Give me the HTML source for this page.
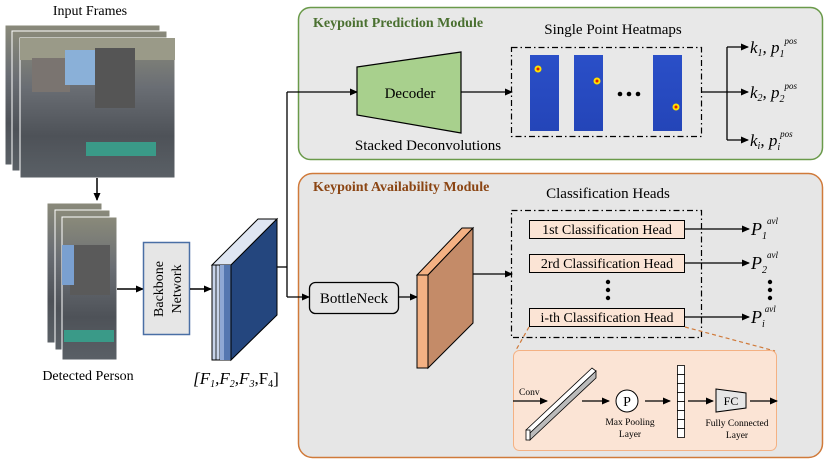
<!DOCTYPE html>
<html><head><meta charset="utf-8"><style>
body{margin:0;background:#fff}
svg{display:block}
text{font-family:"Liberation Serif","DejaVu Serif",serif}
</style></head><body>
<svg width="830" height="466" viewBox="0 0 830 466" xmlns="http://www.w3.org/2000/svg" font-family="Liberation Serif, serif">
<defs>
<marker id="a" markerWidth="8" markerHeight="8" refX="7" refY="4" orient="auto" markerUnits="userSpaceOnUse"><path d="M0,0.5 L8,4 L0,7.5 z" fill="#000"/></marker>
<linearGradient id="ph" x1="0" y1="0" x2="0" y2="1"><stop offset="0" stop-color="#8a8a7a"/><stop offset="0.35" stop-color="#6a6e74"/><stop offset="0.7" stop-color="#4e5258"/><stop offset="1" stop-color="#5a6066"/></linearGradient>
<linearGradient id="hm" x1="0" y1="0" x2="0" y2="1"><stop offset="0" stop-color="#2a4fc8"/><stop offset="1" stop-color="#2445b8"/></linearGradient>
</defs>
<text x="90" y="15" font-size="14" text-anchor="middle">Input Frames</text>
<rect x="5" y="25" width="155" height="140" fill="url(#ph)" stroke="#fff"/>
<rect x="12" y="31" width="155" height="140" fill="url(#ph)" stroke="#fff"/>
<rect x="20" y="38" width="155" height="140" fill="url(#ph)" stroke="#fff"/>
<rect x="20" y="38" width="155" height="22" fill="#9a9a88"/>
<rect x="32" y="58" width="38" height="34" fill="#7a7470"/>
<rect x="65" y="50" width="30" height="35" fill="#8ab0d8"/>
<rect x="95" y="48" width="40" height="60" fill="#555"/>
<rect x="86" y="142" width="70" height="14" fill="#3a9a88"/>
<line x1="97" y1="178" x2="97" y2="200" stroke="#000" stroke-width="1.5" marker-end="url(#a)"/>
<rect x="47" y="203" width="55" height="140" fill="url(#ph)" stroke="#fff"/>
<rect x="55" y="210" width="55" height="140" fill="url(#ph)" stroke="#fff"/>
<rect x="62" y="217" width="55" height="143" fill="url(#ph)" stroke="#fff"/>
<rect x="70" y="245" width="40" height="50" fill="#5a5a5a"/>
<rect x="62" y="245" width="12" height="40" fill="#7aa0d0"/>
<rect x="64" y="330" width="50" height="12" fill="#3a9a88"/>
<text x="88" y="380" font-size="14" text-anchor="middle">Detected Person</text>
<line x1="117" y1="289" x2="143" y2="289" stroke="#000" stroke-width="1.5" marker-end="url(#a)"/>
<rect x="143.5" y="242.5" width="46" height="92" fill="#e6e6e6" stroke="#4a6fa5" stroke-width="1.5"/>
<text transform="translate(163,289) rotate(-90)" font-size="14" text-anchor="middle">Backbone</text>
<text transform="translate(181,289) rotate(-90)" font-size="14" text-anchor="middle">Network</text>
<line x1="190" y1="289" x2="211" y2="289" stroke="#000" stroke-width="1.5" marker-end="url(#a)"/>
<polygon points="212,265 258,219 277,219 231,265" fill="#dfe6f2" stroke="#000" stroke-width="1"/>
<polygon points="212,265 231,265 231,360 212,360" fill="#c8d4ea" stroke="#000"/>
<line x1="216" y1="265" x2="216" y2="360" stroke="#000" stroke-width="0.8"/>
<line x1="220" y1="265" x2="220" y2="360" stroke="#000" stroke-width="0.8"/>
<line x1="224" y1="265" x2="224" y2="360" stroke="#000" stroke-width="0.8"/>
<line x1="228" y1="265" x2="228" y2="360" stroke="#000" stroke-width="0.8"/>
<rect x="220" y="265" width="4" height="95" fill="#8fa8d4"/>
<rect x="224" y="265" width="7" height="95" fill="#5577b0"/>
<polygon points="231,265 277,219 277,315 231,360" fill="#24467e" stroke="#000"/>
<text x="236" y="384" font-size="17" text-anchor="middle" font-style="italic">[F<tspan font-size="10" dy="3">1</tspan><tspan dy="-3">,F</tspan><tspan font-size="10" dy="3">2</tspan><tspan dy="-3">,F</tspan><tspan font-size="10" dy="3">3</tspan><tspan dy="-3" font-style="normal">,F</tspan><tspan font-size="10" dy="3" font-style="normal">4</tspan><tspan dy="-3" font-style="normal">]</tspan></text>
<polyline points="277,267 287,267" fill="none" stroke="#000" stroke-width="1.3"/>
<line x1="287" y1="92" x2="287" y2="297" stroke="#000" stroke-width="1.3"/>
<rect x="298.5" y="7.5" width="524" height="152" rx="12" fill="#e8e8e8" stroke="#6a9a4a" stroke-width="1.5"/>
<text x="313" y="27" font-size="14" font-weight="bold" fill="#4a7030">Keypoint Prediction Module</text>
<line x1="287" y1="92" x2="357" y2="92" stroke="#000" stroke-width="1.3" marker-end="url(#a)"/>
<polygon points="357,67 461,52 461,133 357,115" fill="#a8d08d" stroke="#000" stroke-width="1.2"/>
<text x="410" y="98" font-size="15" text-anchor="middle">Decoder</text>
<text x="428" y="150" font-size="15" text-anchor="middle">Stacked Deconvolutions</text>
<text x="613" y="34" font-size="15" text-anchor="middle">Single Point Heatmaps</text>
<line x1="461" y1="92" x2="512" y2="92" stroke="#000" stroke-width="1.3" marker-end="url(#a)"/>
<rect x="511.5" y="47.5" width="190" height="89" fill="none" stroke="#000" stroke-width="1.2" stroke-dasharray="6,3,1.5,3"/>
<rect x="530" y="55" width="29" height="76" fill="url(#hm)"/>
<rect x="574" y="55" width="29" height="76" fill="url(#hm)"/>
<rect x="653" y="55" width="29" height="76" fill="url(#hm)"/>
<circle cx="538" cy="69" r="3.5" fill="#ffe000"/><circle cx="538" cy="69" r="1.5" fill="#e02000"/>
<circle cx="597" cy="81" r="3.5" fill="#ffe000"/><circle cx="597" cy="81" r="1.5" fill="#e02000"/>
<circle cx="676" cy="107" r="3.5" fill="#ffe000"/><circle cx="676" cy="107" r="1.5" fill="#e02000"/>
<circle cx="620" cy="94" r="2.3"/><circle cx="629" cy="94" r="2.3"/><circle cx="638" cy="94" r="2.3"/>
<line x1="702" y1="92" x2="727" y2="92" stroke="#000" stroke-width="1.3"/>
<line x1="727" y1="47" x2="727" y2="140" stroke="#000" stroke-width="1.3"/>
<line x1="727" y1="47" x2="748" y2="47" stroke="#000" stroke-width="1.3" marker-end="url(#a)"/>
<line x1="727" y1="92" x2="748" y2="92" stroke="#000" stroke-width="1.3" marker-end="url(#a)"/>
<line x1="727" y1="140" x2="748" y2="140" stroke="#000" stroke-width="1.3" marker-end="url(#a)"/>
<g font-size="17" font-style="italic">
<text x="750" y="53">k<tspan font-size="10" dy="3">1</tspan><tspan dy="-3">,  p</tspan><tspan font-size="10" dy="4">1</tspan><tspan font-size="9" dy="-13">pos</tspan></text>
<text x="750" y="98">k<tspan font-size="10" dy="3">2</tspan><tspan dy="-3">,  p</tspan><tspan font-size="10" dy="4">2</tspan><tspan font-size="9" dy="-13">pos</tspan></text>
<text x="750" y="146">k<tspan font-size="10" dy="3">i</tspan><tspan dy="-3">,  p</tspan><tspan font-size="10" dy="4">i</tspan><tspan font-size="9" dy="-13">pos</tspan></text>
</g>
<rect x="298.5" y="173.5" width="524" height="284" rx="14" fill="#e6e6e6" stroke="#d07a3a" stroke-width="1.5"/>
<text x="313" y="191" font-size="14" font-weight="bold" fill="#8b4513">Keypoint Availability Module</text>
<line x1="287" y1="297" x2="309" y2="297" stroke="#000" stroke-width="1.3" marker-end="url(#a)"/>
<rect x="309.5" y="282.5" width="89" height="31" rx="6" fill="#e6e6e6" stroke="#000" stroke-width="1.3"/>
<text x="354" y="303" font-size="15" text-anchor="middle">BottleNeck</text>
<line x1="399" y1="297" x2="417" y2="297" stroke="#000" stroke-width="1.3" marker-end="url(#a)"/>
<polygon points="417,275 462,228 473,228 428,275" fill="#f4b183" stroke="#000"/>
<polygon points="428,275 473,228 473,323 428,368" fill="#c48b68" stroke="#000"/>
<rect x="417" y="275" width="11" height="93" fill="#f4b183" stroke="#000"/>
<line x1="473" y1="274" x2="512" y2="274" stroke="#000" stroke-width="1.3" marker-end="url(#a)"/>
<text x="608" y="198" font-size="15" text-anchor="middle">Classification  Heads</text>
<rect x="511.5" y="210.5" width="190" height="127" fill="none" stroke="#000" stroke-width="1.2" stroke-dasharray="6,3,1.5,3"/>
<g font-size="14" text-anchor="middle">
<rect x="529.5" y="220.5" width="155" height="18" fill="#fbe4d5" stroke="#000"/><text x="607" y="234">1st Classification Head</text>
<rect x="529.5" y="254.5" width="155" height="18" fill="#fbe4d5" stroke="#000"/><text x="607" y="268">2rd Classification Head</text>
<rect x="529.5" y="308.5" width="155" height="18" fill="#fbe4d5" stroke="#000"/><text x="607" y="322">i-th Classification Head</text>
</g>
<circle cx="608" cy="282" r="2.2"/><circle cx="608" cy="290" r="2.2"/><circle cx="608" cy="298" r="2.2"/>
<circle cx="770" cy="282" r="2.2"/><circle cx="770" cy="290" r="2.2"/><circle cx="770" cy="298" r="2.2"/>
<line x1="685" y1="229" x2="749" y2="229" stroke="#000" stroke-width="1.3" marker-end="url(#a)"/>
<line x1="685" y1="263" x2="749" y2="263" stroke="#000" stroke-width="1.3" marker-end="url(#a)"/>
<line x1="685" y1="317" x2="749" y2="317" stroke="#000" stroke-width="1.3" marker-end="url(#a)"/>
<g font-size="18" font-style="italic">
<text x="751" y="235">P<tspan font-size="10" dy="4">1</tspan><tspan font-size="9" dy="-15">avl</tspan></text>
<text x="751" y="269">P<tspan font-size="10" dy="4">2</tspan><tspan font-size="9" dy="-15">avl</tspan></text>
<text x="751" y="323">P<tspan font-size="10" dy="4">i</tspan><tspan font-size="9" dy="-15">avl</tspan></text>
</g>
<line x1="529" y1="327" x2="516" y2="350" stroke="#d07a3a" stroke-width="1.2" stroke-dasharray="4,3"/>
<line x1="685" y1="327" x2="775" y2="351" stroke="#d07a3a" stroke-width="1.2" stroke-dasharray="4,3"/>
<rect x="513.5" y="350.5" width="263" height="100" rx="6" fill="#fbe4d5" stroke="#f4b183" stroke-width="1"/>
<text x="519" y="395" font-size="9.5">Conv</text>
<line x1="513" y1="401" x2="547" y2="401" stroke="#000" stroke-width="1.3" marker-end="url(#a)"/>
<polygon points="526,430 592,368 596,371 530,433" fill="#fff" stroke="#000" stroke-width="0.8"/>
<polygon points="530,433 596,371 596,378 530,440" fill="#bbb" stroke="#000" stroke-width="0.8"/>
<rect x="526" y="430" width="4" height="10" fill="#fff" stroke="#000" stroke-width="0.8"/>
<line x1="582" y1="401" x2="609" y2="401" stroke="#000" stroke-width="1.3" marker-end="url(#a)"/>
<circle cx="627" cy="401" r="11" fill="#fff" stroke="#000"/>
<text x="627" y="406" font-size="14" text-anchor="middle">P</text>
<text x="630" y="425" font-size="9.5" text-anchor="middle">Max Pooling</text>
<text x="630" y="437" font-size="9.5" text-anchor="middle">Layer</text>
<line x1="645" y1="401" x2="670" y2="401" stroke="#000" stroke-width="1.3" marker-end="url(#a)"/>
<g fill="#fff" stroke="#000" stroke-width="0.8">
<rect x="677.5" y="365.5" width="7" height="9"/><rect x="677.5" y="374.5" width="7" height="9"/><rect x="677.5" y="383.5" width="7" height="9"/><rect x="677.5" y="392.5" width="7" height="9"/><rect x="677.5" y="401.5" width="7" height="9"/><rect x="677.5" y="410.5" width="7" height="9"/><rect x="677.5" y="419.5" width="7" height="9"/><rect x="677.5" y="428.5" width="7" height="9"/>
</g>
<line x1="688" y1="401" x2="713" y2="401" stroke="#000" stroke-width="1.3" marker-end="url(#a)"/>
<polygon points="716,389 746,393 746,408 716,412" fill="#e6e6e6" stroke="#000"/>
<text x="731" y="405" font-size="12" text-anchor="middle">FC</text>
<text x="737" y="426" font-size="9.5" text-anchor="middle">Fully Connected</text>
<text x="737" y="438" font-size="9.5" text-anchor="middle">Layer</text>
<line x1="750" y1="401" x2="777" y2="401" stroke="#000" stroke-width="1.3" marker-end="url(#a)"/>
</svg>
</body></html>
